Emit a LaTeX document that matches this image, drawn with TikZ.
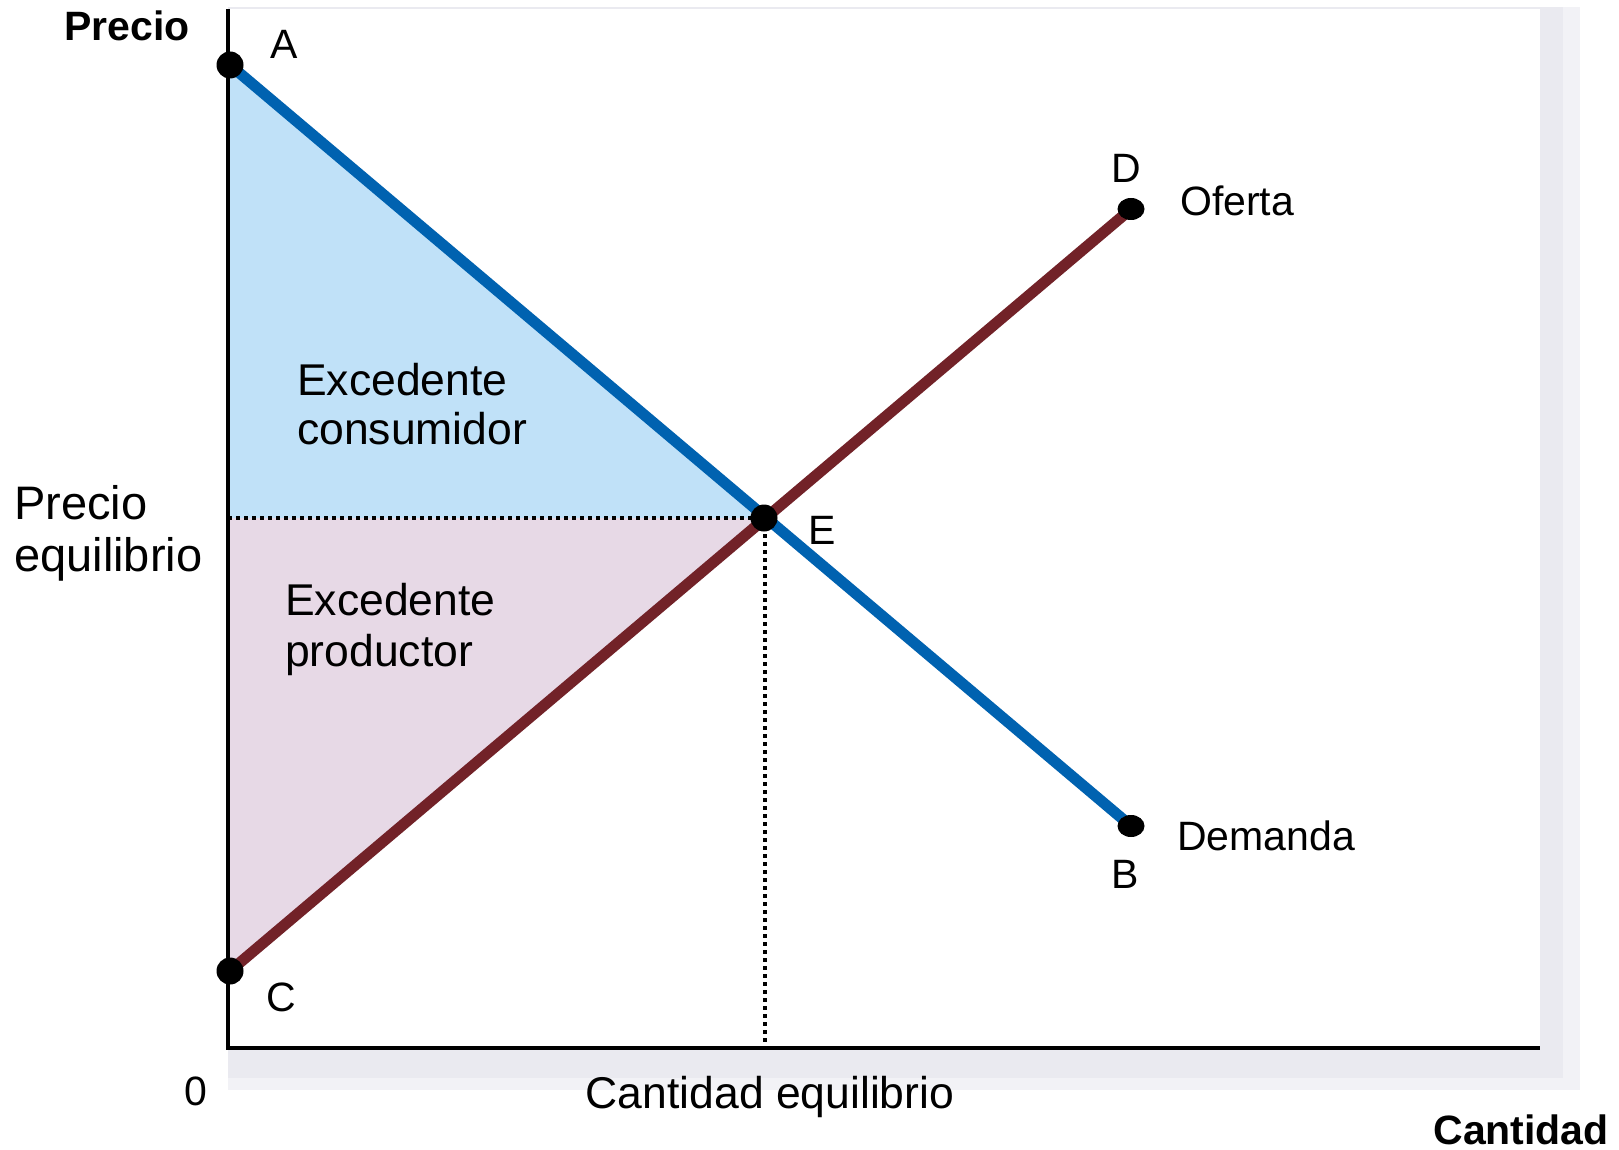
\documentclass[tikz,border=0pt]{standalone}
\usepackage{fontspec}
\setmainfont{Liberation Sans}
\definecolor{dblue}{RGB}{0,98,176}
\definecolor{maroon}{RGB}{114,34,40}
\definecolor{cfill}{RGB}{192,225,248}
\definecolor{pfill}{RGB}{231,217,230}
\definecolor{shad}{RGB}{234,234,240}
\definecolor{shadlight}{RGB}{242,242,246}
\tikzset{
  lbl/.style={inner sep=0pt, font=\fontsize{44.5}{52}\selectfont},
  sml/.style={inner sep=0pt, font=\fontsize{41}{48}\selectfont},
  big/.style={inner sep=0pt, font=\fontsize{47}{54}\selectfont},
  bld/.style={inner sep=0pt, font=\fontsize{41}{48}\selectfont\bfseries},
  dotpt/.style={circle, fill=black, inner sep=0pt, minimum size=27pt},
  dotell/.style={ellipse, fill=black, inner sep=0pt, minimum width=27pt, minimum height=22pt},
  curve/.style={line width=11pt},
  guide/.style={line width=4pt, dash pattern=on 4pt off 4pt},
  axis/.style={line width=4pt}
}
\usetikzlibrary{shapes.geometric}
\begin{document}
\begin{tikzpicture}[x=1pt,y=-1pt]
\useasboundingbox (0,0) rectangle (1619,1150);
% shadow and plot area
\fill[shadlight] (228,7) rectangle (1580,1090);
\fill[shad] (228,7) rectangle (1563,1078);
\fill[white] (228,9) rectangle (1540,1048);
% key coordinates
\coordinate (pA) at (230,65);
\coordinate (pC) at (230,971);
\coordinate (pE) at (764,518);
\coordinate (pD) at (1131,209);
\coordinate (pB) at (1131,826);
\coordinate (yP) at (228,518);
\coordinate (xQ) at (765,1048);
\coordinate (o) at (228,1048);
\coordinate (ytop) at (228,9);
\coordinate (xend) at (1540,1048);
% fills
\fill[cfill] (pA) -- (pE) -- (yP) -- cycle;
\fill[pfill] (yP) -- (pE) -- (pC) -- cycle;
% guides
\draw[guide] (yP) -- (pE);
\draw[guide] (pE -| xQ) -- (xQ);
% axes
\draw[axis] (ytop) -- (o) -- (xend);
% curves
\draw[curve, dblue] (pA) -- (pB);
\draw[curve, maroon] (pC) -- (pD);
% dots
\node[dotpt] (dA) at (pA) {};
\node[dotpt] (dC) at (pC) {};
\node[dotpt] (dE) at (pE) {};
\node[dotell] (dD) at (pD) {};
\node[dotell] (dB) at (pB) {};
% labels
\node[bld, anchor=base] (tprecio) at (127,41) {Precio};
\node[bld, anchor=base east] (tcant) at (1609,1144) {Cantidad};
\node[sml, anchor=base] (tA) at (284,59) {A};
\node[sml, anchor=base] (tD) at (1126,183) {D};
\node[sml, anchor=base west] (tof) at (1180,216) {Oferta};
\node[sml, anchor=base west] (tE) at (808,544) {E};
\node[sml, anchor=base west] (tdem) at (1177,850) {Demanda};
\node[sml, anchor=base] (tB) at (1125,888) {B};
\node[sml, anchor=base] (tC) at (281,1011) {C};
\node[sml, anchor=base] (t0) at (196,1105) {0};
\node[lbl, anchor=base west] (tec1) at (297,395) {Excedente};
\node[lbl, anchor=base west] (tec2) at (297,444) {consumidor};
\node[lbl, anchor=base west] (tep1) at (285,615) {Excedente};
\node[lbl, anchor=base west] (tep2) at (285,666) {productor};
\node[big, anchor=base west] (tpe1) at (14,519) {Precio};
\node[big, anchor=base west] (tpe2) at (14,571) {equilibrio};
\node[lbl, anchor=base] (tqe) at (770,1108) {Cantidad equilibrio};
\end{tikzpicture}
\end{document}
